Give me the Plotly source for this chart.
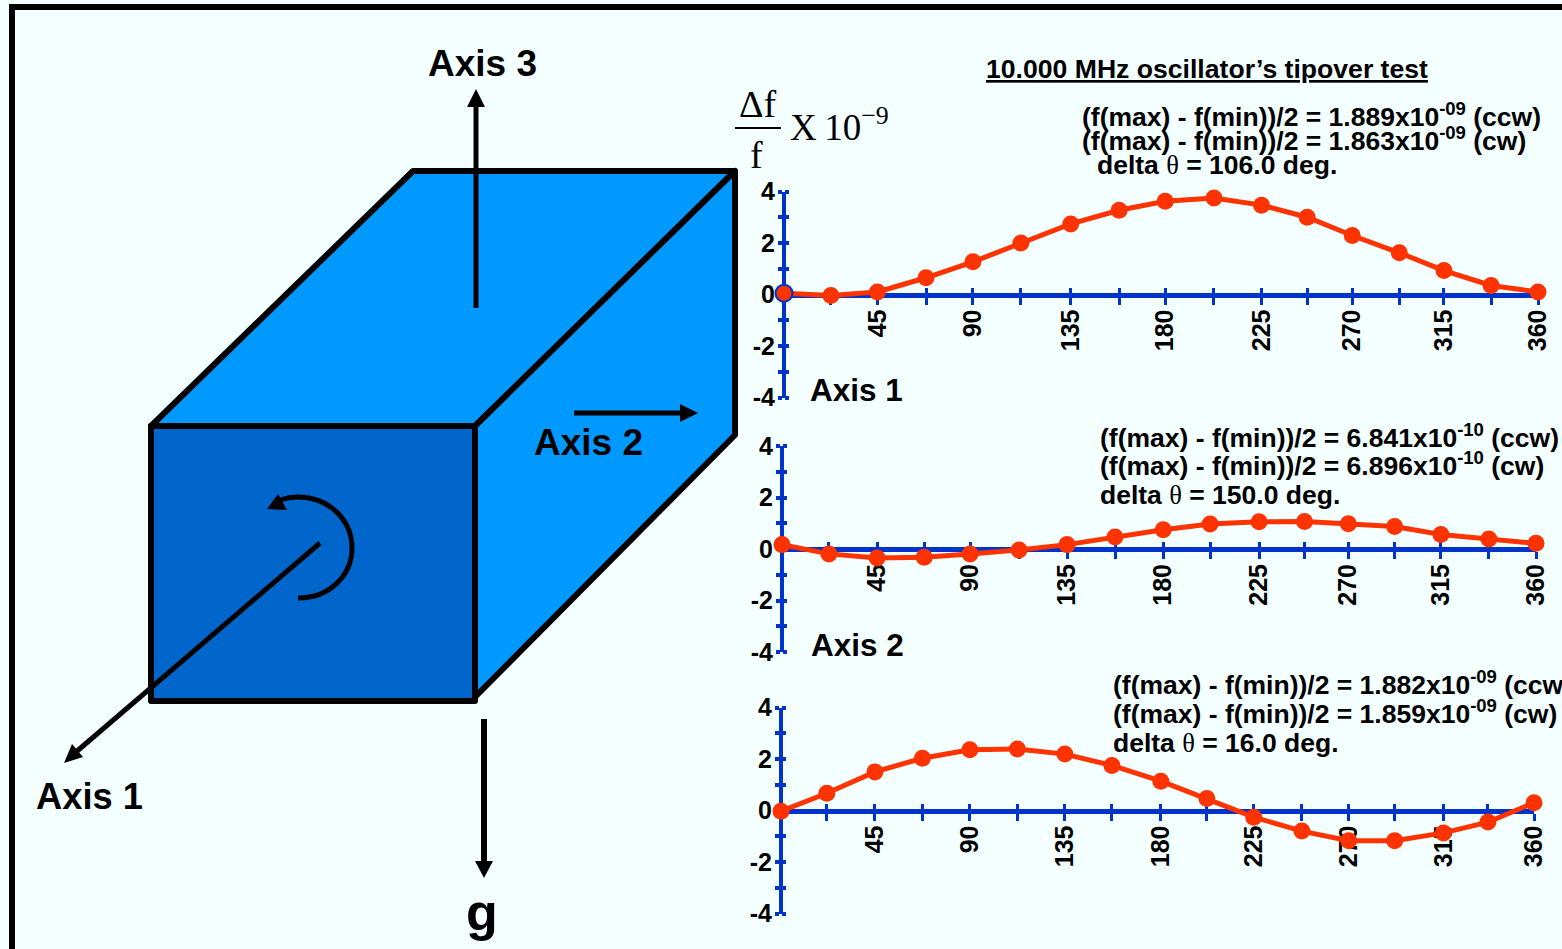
import plotly.graph_objects as go

W, H = 1562, 949
BG = "#F4FFFF"
BLUE = "#0033CC"
RED = "#FF3300"
SANS = "Liberation Sans"
SERIF = "Liberation Serif"

# --- data ---
# The sample angles are nominally every 22.5 deg; the drawn positions are a little uneven,
# so each panel keeps the positions as they were read.
axis1_angles = [0, 22.4, 44.6, 67.8, 90.2, 113.1, 136.9, 160.0, 182.0, 205.3, 228.0, 249.8, 271.3, 293.8, 315.1, 337.6, 360]
axis2_angles = [0, 22.4, 45.4, 67.9, 89.8, 113.2, 136.1, 159.0, 182.0, 204.4, 227.8, 249.5, 270.4, 292.5, 314.6, 337.5, 360]
axis3_angles = [0, 21.9, 44.9, 67.6, 90.3, 113.0, 135.7, 158.2, 181.6, 203.6, 226.0, 249.0, 271.4, 293.4, 316.7, 338.0, 360]
x_labels = ["45", "90", "135", "180", "225", "270", "315", "360"]
y_label_ticks = [-4, -2, 0, 2, 4]
y_labels = ["-4", "-2", "0", "2", "4"]
y_minor_ticks = [-3, -1, 1, 3]
axis1_values = [0.05, -0.04, 0.10, 0.65, 1.27, 2.00, 2.74, 3.27, 3.62, 3.75, 3.47, 3.00, 2.29, 1.62, 0.93, 0.35, 0.10]
axis2_values = [0.17, -0.19, -0.35, -0.32, -0.19, -0.04, 0.17, 0.47, 0.75, 0.97, 1.06, 1.07, 0.98, 0.87, 0.56, 0.39, 0.22]
axis3_values = [-0.03, 0.67, 1.50, 2.03, 2.36, 2.39, 2.19, 1.75, 1.14, 0.47, -0.26, -0.80, -1.17, -1.17, -0.87, -0.45, 0.30]

# panel frames in pixels: left, right, top, bottom
panels = [
    (784, 1538, 191.5, 397.5, axis1_angles, axis1_values),
    (782, 1536, 446, 652, axis2_angles, axis2_values),
    (781, 1534, 707.5, 913.5, axis3_angles, axis3_values),
]


def fx(px):
    return px / W


def fy(py):
    return 1 - py / H


fig = go.Figure()
layout = dict(
    width=W, height=H, margin=dict(l=0, r=0, t=0, b=0, pad=0, autoexpand=False), autosize=False,
    paper_bgcolor=BG, plot_bgcolor="rgba(0,0,0,0)", showlegend=False,
    font=dict(family=SANS, color="black"),
)

# Invisible pixel-space axes that carry the box diagram
layout["xaxis10"] = dict(domain=[0, 1], range=[0, W], visible=False, anchor="y10", fixedrange=True)
layout["yaxis10"] = dict(domain=[0, 1], range=[H, 0], visible=False, anchor="x10", fixedrange=True)
fig.add_trace(go.Scatter(x=[None], y=[None], xaxis="x10", yaxis="y10", hoverinfo="skip"))

for i, (left, right, top, bottom, angs, vals) in enumerate(panels):
    b = i * 2 + 1      # main axes number
    t = i * 2 + 2      # companion axes that give the ticks their other half
    dom_x = [fx(left), fx(right)]
    dom_y = [fy(bottom), fy(top)]
    zero_pos = fy((top + bottom) / 2)
    xn = "x" if b == 1 else f"x{b}"
    yn = "y" if b == 1 else f"y{b}"
    x_minor = dict(tickmode="array", tickvals=angs[1::2], ticks="outside", ticklen=7, tickwidth=3,
                   tickcolor=BLUE, showgrid=False)
    y_minor = dict(tickmode="array", tickvals=y_minor_ticks, ticks="outside", ticklen=4, tickwidth=4,
                   tickcolor=BLUE, showgrid=False)
    layout[f"xaxis{'' if b == 1 else b}"] = dict(
        domain=dom_x, range=[0, 360], anchor="free", position=zero_pos, side="bottom",
        tickmode="array", tickvals=angs[2::2], ticktext=x_labels, tickangle=-90, minor=x_minor,
        ticks="outside", ticklen=7, tickwidth=3, tickcolor=BLUE,
        showline=True, linecolor=BLUE, linewidth=5, showgrid=False, zeroline=False,
        tickfont=dict(family=SANS, size=25, color="black", weight="bold"),
        ticklabelstandoff=-5, layer="below traces", fixedrange=True,
    )
    layout[f"yaxis{'' if b == 1 else b}"] = dict(
        domain=dom_y, range=[-4, 4], anchor="free", position=fx(left), side="left",
        tickmode="array", tickvals=y_label_ticks, ticktext=y_labels, minor=y_minor,
        ticks="outside", ticklen=4, tickwidth=4, tickcolor=BLUE,
        showline=True, linecolor=BLUE, linewidth=4, showgrid=False, zeroline=False,
        tickfont=dict(family=SANS, size=25, color="black", weight="bold"),
        ticklabelstandoff=-2, layer="below traces", fixedrange=True,
    )
    layout[f"xaxis{t}"] = dict(
        domain=dom_x, range=[0, 360], anchor="free", position=zero_pos, side="top",
        overlaying=xn, tickmode="array", tickvals=angs[2::2], showticklabels=False, minor=x_minor,
        ticks="outside", ticklen=7, tickwidth=3, tickcolor=BLUE,
        showline=False, showgrid=False, zeroline=False, layer="below traces", fixedrange=True,
    )
    layout[f"yaxis{t}"] = dict(
        domain=dom_y, range=[-4, 4], anchor="free", position=fx(left), side="right",
        overlaying=yn, tickmode="array", tickvals=y_label_ticks, showticklabels=False, minor=y_minor,
        ticks="outside", ticklen=4, tickwidth=4, tickcolor=BLUE,
        showline=False, showgrid=False, zeroline=False, layer="below traces", fixedrange=True,
    )
    fig.add_trace(go.Scatter(x=[None], y=[None], xaxis=f"x{t}", yaxis=f"y{t}", hoverinfo="skip"))
    line_widths = [2 if (i == 0 and k == 0) else 0 for k in range(len(angs))]
    fig.add_trace(go.Scatter(
        x=angs, y=vals, mode="lines+markers", cliponaxis=False,
        xaxis=xn, yaxis=yn, hoverinfo="skip",
        line=dict(color=RED, width=5),
        marker=dict(color=RED, size=17, line=dict(color=BLUE, width=line_widths)),
    ))


def box_shape(path, fill=None, width=0, color="black"):
    d = dict(type="path", path=path, xref="x10", yref="y10", layer="below",
             line=dict(color=color, width=width))
    if fill:
        d["fillcolor"] = fill
    return d


def seg(x0, y0, x1, y1, w=5):
    return dict(type="line", x0=x0, y0=y0, x1=x1, y1=y1, xref="x10", yref="y10",
                layer="below", line=dict(color="black", width=w))


shapes = [
    # frame
    box_shape(f"M 9 {H} L 9 4 L {W} 4 L {W} 10 L 15 10 L 15 {H} Z", "black"),
    # box faces
    box_shape("M 151 426 L 413 171 L 735 171 L 475 426 Z", "#0099FF", 6),
    box_shape("M 475 426 L 735 171 L 735 435 L 475 697 Z", "#0099FF", 6),
    box_shape("M 151 426 L 475 426 L 475 701 L 151 701 Z", "#0066CC", 6),
    # Axis 3 arrow
    seg(476, 308, 476, 104),
    box_shape("M 476 89 L 485 107 L 467 107 Z", "black"),
    # Axis 2 arrow
    seg(574, 413, 682, 413),
    box_shape("M 698 413 L 680 404 L 680 422 Z", "black"),
    # Axis 1 arrow
    seg(320, 543, 76, 752, 5),
    box_shape("M 64 763 L 72 744 L 83 757 Z", "black"),
    # rotation arrow
    box_shape("M 298 598 C 330 598 352 575 352 548 C 352 521 330 497 298 497 C 291 497 286 498 280 500",
              None, 5),
    box_shape("M 267 509 L 278 494 L 287 510 Z", "black"),
    # g arrow
    seg(484, 719, 484, 864, 6),
    box_shape("M 484 878 L 475 861 L 493 861 Z", "black"),
    # delta f over f fraction bar
    seg(735, 128, 781, 128, 2),
]
layout["shapes"] = shapes


def txt(px, py, s, size=24, family=SANS, bold=True, xanchor="left"):
    return dict(
        x=fx(px), y=fy(py), xref="paper", yref="paper", text=s, showarrow=False,
        xanchor=xanchor, yanchor="middle", align="left",
        font=dict(family=family, size=size, color="black", weight="bold" if bold else "normal"),
    )


THETA = f'<span style="font-family:{SERIF};font-weight:normal">\u03b8</span>'
FS = 26.5
layout["annotations"] = [
    txt(482.5, 64, "Axis 3", 37, xanchor="center"),
    txt(588.5, 442, "Axis 2", 37, xanchor="center"),
    txt(89.5, 796, "Axis 1", 36.3, xanchor="center"),
    txt(482, 912, "g", 52, xanchor="center"),
    txt(1207, 69, "<u>10.000 MHz oscillator\u2019s tipover test</u>", 26.6, xanchor="center"),
    txt(757, 104, "\u0394f", 38, SERIF, False, "center"),
    txt(756.5, 155, "f", 38, SERIF, False, "center"),
    txt(788, 125, "X\u200910<sup>\u22129</sup>", 37, SERIF, False),
    txt(1080, 115, "(f(max) - f(min))/2 = 1.889x10<sup>-09</sup> (ccw)", FS),
    txt(1080, 139, "(f(max) - f(min))/2 = 1.863x10<sup>-09</sup> (cw)", FS),
    txt(1095, 165, f"delta {THETA} = 106.0 deg.", FS),
    txt(1098, 436, "(f(max) - f(min))/2 = 6.841x10<sup>-10</sup> (ccw)", FS),
    txt(1098, 464, "(f(max) - f(min))/2 = 6.896x10<sup>-10</sup> (cw)", FS),
    txt(1098, 495, f"delta {THETA} = 150.0 deg.", FS),
    txt(1111, 683, "(f(max) - f(min))/2 = 1.882x10<sup>-09</sup> (ccw)", FS),
    txt(1111, 712, "(f(max) - f(min))/2 = 1.859x10<sup>-09</sup> (cw)", FS),
    txt(1111, 743, f"delta {THETA} = 16.0 deg.", FS),
    txt(808, 390, "Axis 1", 31.5),
    txt(809, 645, "Axis 2", 31.5),
]

fig.update_layout(**layout)
post = (
    "document.body.style.margin='0';document.body.style.background='" + BG + "';"
    "var s=document.createElement('style');s.textContent='.shapelayer path{stroke-linejoin:round}';"
    "document.head.appendChild(s);"
)
fig.write_html("out.html", config=dict(displayModeBar=False), post_script=post)
